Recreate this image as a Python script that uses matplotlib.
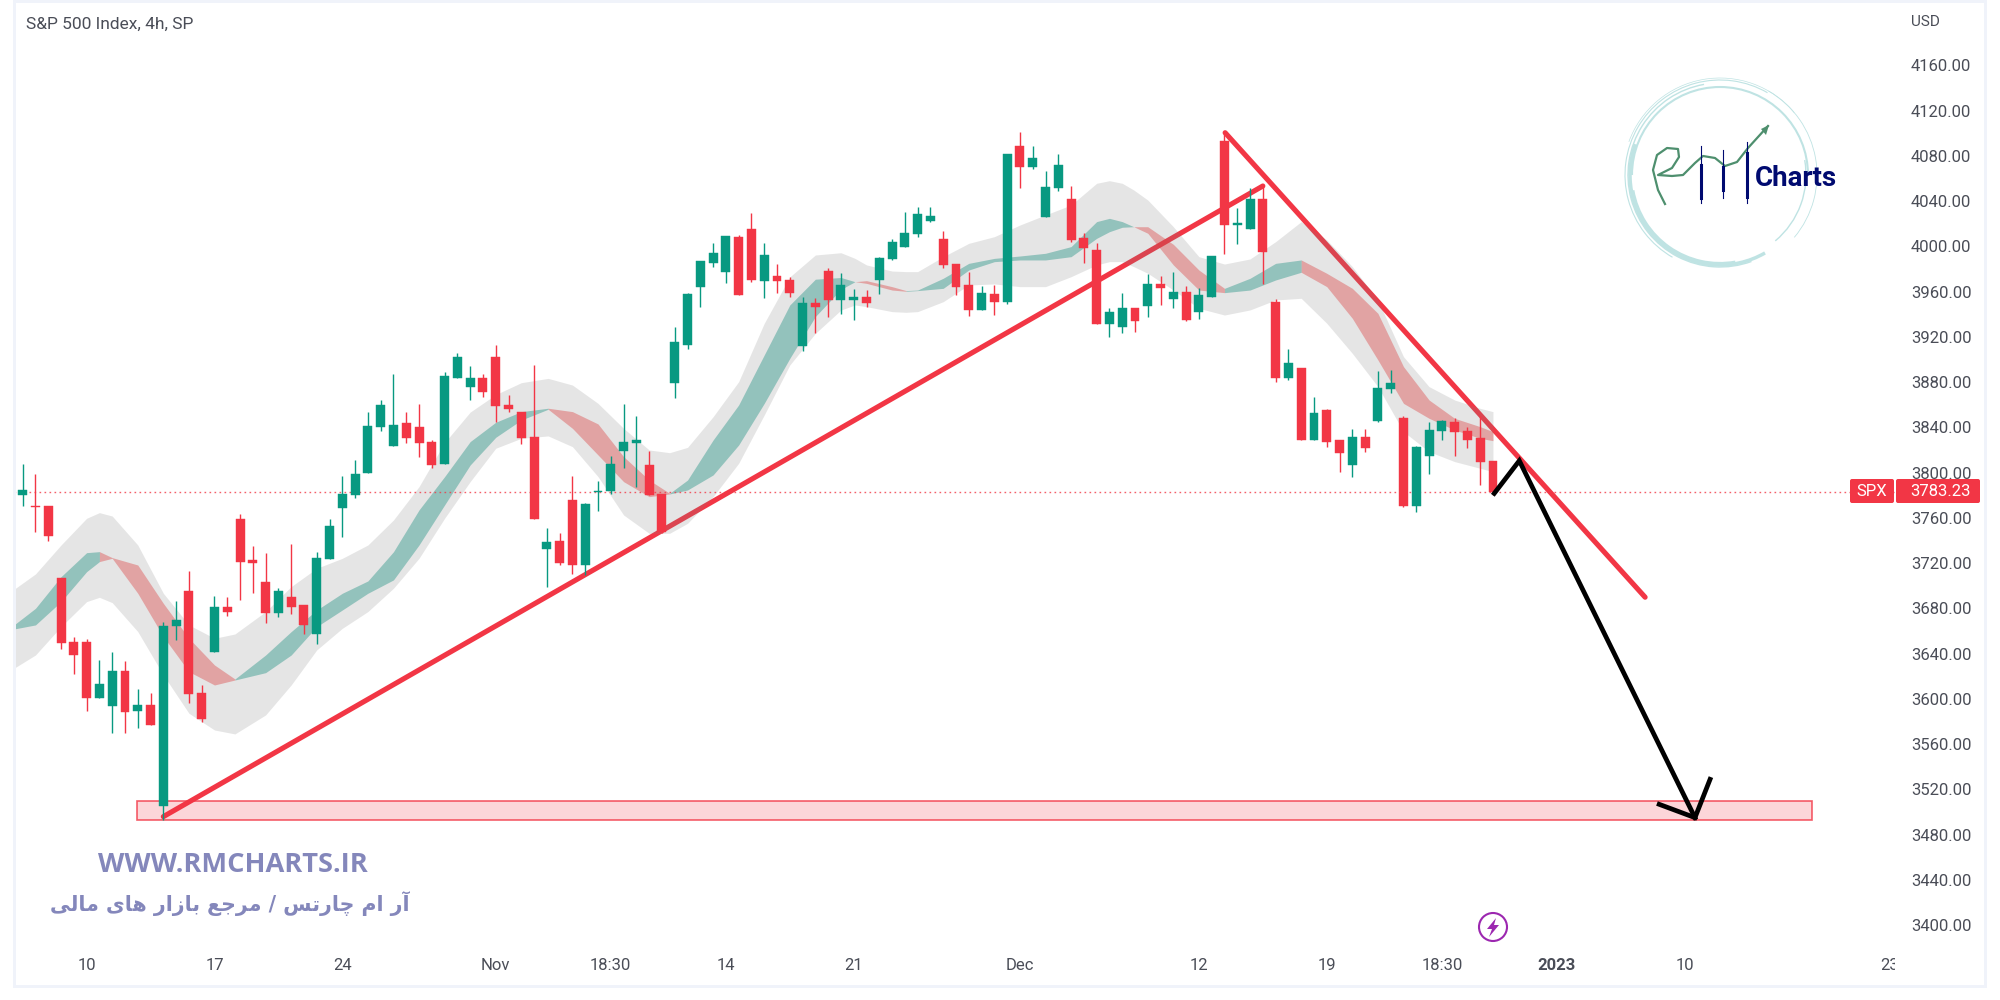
import numpy as np
import matplotlib
matplotlib.use("Agg")
import matplotlib.pyplot as plt
from matplotlib.patches import Arc, Circle, FancyBboxPatch, Polygon, Rectangle
from matplotlib.transforms import Bbox

# 4h candles
opens = [3780.2, 3770.8, 3770.8, 3707.1, 3650.5, 3650.5, 3601.0, 3593.9, 3624.9, 3589.2,
         3594.8, 3504.9, 3664.4, 3695.6, 3605.4, 3641.4, 3681.5, 3759.0, 3723.0, 3703.6,
         3675.9, 3689.7, 3682.7, 3657.3, 3723.3, 3768.4, 3779.9, 3799.7, 3840.0, 3823.8,
         3843.6, 3840.0, 3827.3, 3807.9, 3883.9, 3876.0, 3883.9, 3902.5, 3859.8, 3853.9,
         3831.8, 3732.7, 3739.5, 3775.5, 3718.6, 3782.5, 3783.7, 3819.4, 3826.5, 3806.7,
         3781.1, 3879.5, 3912.9, 3963.8, 3985.6, 3977.7, 4008.6, 4015.7, 3969.7, 3974.2,
         3970.6, 3911.9, 3949.7, 3978.5, 3952.3, 3952.3, 3955.6, 3970.6, 3989.2, 3999.5,
         4011.0, 4022.5, 4006.2, 3984.4, 3965.9, 3944.1, 3957.9, 3951.1, 4088.5, 4069.9,
         4026.0, 4051.3, 4042.2, 4007.4, 3997.1, 3931.4, 3929.0, 3945.2, 3947.6, 3967.0,
         3953.2, 3960.0, 3941.7, 3955.6, 4092.9, 4019.2, 4015.7, 4042.2, 3950.8, 3883.9,
         3892.2, 3828.5, 3855.0, 3828.5, 3806.7, 3831.8, 3845.6, 3873.6, 3848.0, 3770.8,
         3814.7, 3836.8, 3844.4, 3836.5, 3830.6, 3810.0]
highs = [3807.6, 3798.5, 3770.8, 3707.1, 3655.0, 3652.6, 3634.3, 3641.1, 3633.1, 3608.7,
         3605.4, 3667.6, 3686.2, 3712.7, 3612.2, 3690.9, 3689.7, 3763.7, 3734.8, 3728.9,
         3698.0, 3737.2, 3682.7, 3730.1, 3759.0, 3797.3, 3811.2, 3853.9, 3864.2, 3887.2,
         3853.9, 3860.6, 3828.5, 3888.6, 3905.7, 3894.2, 3887.2, 3912.5, 3868.9, 3853.9,
         3895.4, 3751.0, 3746.3, 3797.3, 3772.8, 3792.6, 3814.7, 3860.9, 3850.3, 3819.1,
         3781.1, 3929.1, 3959.1, 3986.8, 4002.7, 4008.9, 4009.8, 4029.3, 4002.7, 3984.5,
         3972.7, 3955.6, 3954.4, 3980.6, 3976.2, 3962.3, 3961.2, 3990.9, 4006.2, 4030.4,
         4035.1, 4035.1, 4013.3, 3984.4, 3977.4, 3964.7, 3965.9, 4081.4, 4101.1, 4088.5,
         4066.4, 4081.4, 4053.7, 4012.1, 4002.7, 3945.2, 3959.1, 3945.2, 3975.3, 3974.1,
         3977.4, 3964.7, 3963.5, 3991.2, 4100.0, 4034.2, 4051.3, 4054.3, 3953.2, 3909.3,
         3892.2, 3866.5, 3856.2, 3828.5, 3838.8, 3838.8, 3889.5, 3890.7, 3850.3, 3823.8,
         3844.4, 3846.8, 3848.0, 3840.0, 3850.3, 3810.0]
lows = [3770.8, 3747.8, 3739.5, 3643.8, 3621.7, 3589.2, 3601.0, 3569.8, 3569.8, 3574.2,
        3576.6, 3492.9, 3651.7, 3596.0, 3579.8, 3641.4, 3673.5, 3687.4, 3693.3, 3666.7,
        3672.3, 3674.7, 3657.3, 3648.2, 3723.3, 3743.1, 3777.6, 3799.7, 3836.8, 3823.8,
        3826.2, 3813.5, 3804.4, 3807.9, 3883.9, 3864.5, 3866.5, 3844.7, 3853.9, 3825.0,
        3759.3, 3699.1, 3718.6, 3710.6, 3709.4, 3766.0, 3781.1, 3804.4, 3787.0, 3780.2,
        3746.3, 3865.7, 3909.6, 3946.5, 3982.1, 3967.4, 3956.8, 3968.6, 3954.7, 3959.1,
        3955.6, 3907.2, 3923.1, 3937.3, 3940.5, 3934.9, 3946.4, 3957.9, 3988.3, 3999.5,
        4008.6, 4021.3, 3981.2, 3956.7, 3938.2, 3944.1, 3939.3, 3948.8, 4051.6, 4068.1,
        4026.0, 4049.3, 4004.2, 3985.6, 3931.4, 3919.9, 3923.1, 3924.3, 3937.3, 3948.5,
        3945.2, 3933.7, 3935.8, 3955.6, 3993.6, 4001.8, 4015.7, 3967.0, 3880.4, 3881.6,
        3828.5, 3828.5, 3822.6, 3800.8, 3796.4, 3818.2, 3844.4, 3870.1, 3769.9, 3765.2,
        3798.5, 3828.5, 3814.7, 3821.7, 3789.3, 3780.2]
closes = [3784.3, 3769.6, 3744.3, 3649.4, 3639.0, 3601.0, 3613.4, 3624.9, 3588.1, 3594.8,
          3576.6, 3664.4, 3670.0, 3604.3, 3582.2, 3681.5, 3677.1, 3721.0, 3719.8, 3675.9,
          3695.6, 3681.5, 3665.6, 3724.2, 3753.1, 3780.8, 3798.5, 3841.2, 3859.8, 3842.4,
          3830.9, 3826.5, 3806.7, 3885.1, 3902.5, 3883.9, 3871.3, 3858.6, 3856.2, 3830.9,
          3759.3, 3738.3, 3719.8, 3718.6, 3771.9, 3784.0, 3807.9, 3827.3, 3828.5, 3780.2,
          3747.5, 3915.2, 3957.9, 3986.8, 3993.9, 4008.9, 3956.8, 3970.6, 3992.4, 3969.7,
          3959.1, 3949.7, 3946.1, 3952.3, 3965.9, 3955.6, 3949.7, 3990.0, 4003.9, 4012.1,
          4028.3, 4027.2, 3983.3, 3963.8, 3944.1, 3958.8, 3950.8, 4081.4, 4069.9, 4077.9,
          4052.5, 4072.3, 4005.4, 3998.3, 3931.4, 3941.7, 3945.2, 3933.7, 3967.0, 3963.5,
          3960.0, 3934.6, 3956.7, 3991.2, 4019.2, 4020.4, 4042.2, 3994.8, 3883.9, 3896.6,
          3828.5, 3852.7, 3827.3, 3817.0, 3831.8, 3821.7, 3874.5, 3879.2, 3770.8, 3822.6,
          3837.7, 3845.6, 3835.6, 3828.5, 3809.1, 3783.23]

# ribbon indicator, sampled in bar numbers
ribbon_x = [-0.68, 1, 3, 5, 6, 7, 9, 11, 13, 15, 16.6, 19, 21, 23, 25, 27, 29, 31,
            33, 35, 37, 39, 41.1, 43, 45, 47, 49, 50.6, 52, 54, 56, 58, 60,
            62, 64, 65.1, 66, 68, 69.1, 70, 72, 74, 76, 78, 80, 82, 84, 85, 86, 86.9,
            88, 90, 92, 94, 96, 98, 100, 102, 104, 106, 108, 110, 112, 114, 115]
outer_top = [3696.8, 3710.4, 3736.0, 3759.6, 3764.6, 3761.6, 3736.0, 3693.3, 3665.3, 3653.5,
             3657.3, 3677.1, 3699.2, 3715.4, 3724.2, 3736.0, 3758.1, 3787.6,
             3826.5, 3853.5, 3869.0, 3879.5, 3883.3, 3877.4, 3861.2, 3839.1, 3820.0, 3817.6,
             3822.3, 3849.4, 3880.4, 3932.0, 3973.0,
             3992.4, 3994.4, 3989.4, 3983.6, 3978.2, 3977.7, 3977.7, 3990.9, 4002.7, 4008.6,
             4018.9, 4027.8, 4036.6, 4055.8, 4058.1, 4055.8, 4049.9,
             4041.0, 4017.4, 3990.9, 3984.4, 3988.9, 4004.2, 4021.9, 4005.7, 3982.1, 3952.6,
             3902.5, 3876.0, 3864.2, 3856.8, 3853.9]
outer_bot = [3627.0, 3638.7, 3663.8, 3685.9, 3689.7, 3685.0, 3659.4, 3621.1, 3587.2, 3572.4,
             3568.9, 3585.7, 3612.2, 3643.2, 3662.3, 3677.1, 3697.7, 3724.2,
             3759.6, 3792.0, 3821.5, 3830.3, 3832.4, 3822.9, 3796.4, 3762.5, 3746.3, 3746.3,
             3755.1, 3778.7, 3808.2, 3850.9, 3895.1,
             3923.1, 3943.7, 3948.2, 3946.7, 3942.3, 3941.7, 3942.3, 3951.1, 3965.9, 3966.8,
             3964.4, 3964.4, 3973.2, 3983.6, 3986.5, 3986.5, 3982.1,
             3976.2, 3961.4, 3945.2, 3939.3, 3943.8, 3952.6, 3954.1, 3932.0, 3905.4, 3876.0,
             3836.2, 3818.5, 3809.7, 3803.8, 3800.8]
band_top = [3665.3, 3680.0, 3708.0, 3729.2, 3730.1, 3724.8, 3718.3, 3684.4, 3653.5, 3629.9,
            3617.5, 3638.7, 3659.4, 3678.5, 3693.3, 3704.2, 3730.0, 3767.0,
            3796.4, 3827.4, 3844.5, 3853.9, 3856.9, 3853.9, 3843.0, 3814.1, 3793.4, 3781.7,
            3793.4, 3828.8, 3859.8, 3904.0, 3948.2,
            3971.0, 3972.5, 3968.8, 3969.7, 3964.4, 3960.9, 3961.4, 3971.8, 3985.0, 3989.4,
            3991.5, 3993.9, 3999.8, 4021.9, 4024.8, 4021.9, 4017.4,
            4017.4, 4001.8, 3979.1, 3962.9, 3971.8, 3985.0, 3988.0, 3976.2, 3962.9, 3940.8,
            3893.7, 3864.2, 3848.0, 3840.6, 3836.2]
band_bot = [3661.7, 3665.3, 3685.9, 3712.4, 3721.3, 3724.2, 3693.3, 3655.0, 3624.0, 3612.2,
            3616.6, 3623.1, 3638.7, 3663.8, 3678.5, 3693.3, 3705.1, 3736.0,
            3771.4, 3806.7, 3831.2, 3846.5, 3856.0, 3839.1, 3815.6, 3792.0, 3778.7, 3781.1,
            3784.6, 3797.9, 3824.4, 3861.2, 3901.0,
            3938.0, 3962.0, 3968.8, 3967.3, 3961.4, 3960.3, 3960.9, 3962.9, 3979.1, 3986.5,
            3988.0, 3988.0, 3990.9, 4007.1, 4013.0, 4016.9, 4017.4,
            4011.6, 3983.6, 3961.4, 3959.1, 3961.4, 3970.3, 3977.1, 3964.4, 3936.4, 3899.6,
            3861.2, 3848.0, 3837.7, 3830.3, 3828.2]
turns = [-0.68, 6, 16.6, 41.1, 50.6, 65.1, 69.1, 86.9, 94, 100, 115]
turn_colors = ["up", "down", "up", "down", "up", "down", "up", "down", "up", "down"]

# drawings on the chart: (bar, price)
up_line = [(11.0, 3495.8), (97.0, 4053.4)]
down_line = [(94.05, 4100.5), (126.9, 3689.8)]
arrow_path = [(115.1, 3781.6), (117.06, 3810.5), (130.8, 3494.9)]
arrow_head = [(128.0, 3506.7), (130.8, 3494.9), (131.98, 3528.8)]
zone_bars = [8.97, 139.95]
zone_prices = [3493, 3510]

price_ticks = list(range(3400, 4161, 40))
time_ticks = [5, 15, 25, 37, 46, 55, 65, 78, 92, 102, 111, 120, 130, 146]
time_labels = ["10", "17", "24", "Nov", "18:30", "14", "21", "Dec", "12", "19", "18:30", "2023", "10", "23"]
last_price = 3783.23

GREEN = "#089981"
RED = "#F23645"
TEXT = "#4a4d57"
WATERMARK = "#8487BB"
NAVY = "#000A70"

plt.rcParams["font.family"] = ["Roboto", "DejaVu Sans"]

fig = plt.figure(figsize=(20, 10), dpi=100, facecolor="white")

# bar n sits at x = 22.7 + 12.785 * n pixels, axes run from 14 to 1895 px, 3 to 945 px
ax = fig.add_axes([14 / 2000, (1000 - 945) / 1000, (1895 - 14) / 2000, (945 - 3) / 1000])
ax.set_xlim((14 - 22.7) / 12.785, (1895 - 22.7) / 12.785)
ax.set_ylim(3382.3, 4215.2)
for spine in ax.spines.values():
    spine.set_visible(False)

x = np.arange(len(opens))
opens_a = np.array(opens)
closes_a = np.array(closes)
colors = [GREEN if c >= o else RED for o, c in zip(opens, closes)]

ax.add_patch(Rectangle((zone_bars[0], zone_prices[0]), zone_bars[1] - zone_bars[0],
                       zone_prices[1] - zone_prices[0], fc=(0.949, 0.212, 0.271, 0.2),
                       ec=(0.949, 0.212, 0.271, 0.8), lw=1.2, zorder=1))

ax.plot(*zip(*up_line), color=RED, lw=3.7, zorder=2, solid_capstyle="round")
ax.plot(*zip(*down_line), color=RED, lw=3.7, zorder=2, solid_capstyle="round")

rx = np.array(ribbon_x)
ax.fill_between(rx, outer_bot, outer_top, color="#808080", alpha=0.2, lw=0, zorder=3)
for i, kind in enumerate(turn_colors):
    m = (rx >= turns[i]) & (rx <= turns[i + 1])
    c = "#198E7F" if kind == "up" else "#DC4141"
    ax.fill_between(rx[m], np.array(band_bot)[m], np.array(band_top)[m], color=c, alpha=0.4, lw=0, zorder=3.1)

ax.vlines(x, lows, highs, colors=colors, lw=1.0, zorder=4)
ax.bar(x, np.abs(closes_a - opens_a), bottom=np.minimum(opens_a, closes_a), width=0.7,
       color=colors, edgecolor=colors, lw=0.3, zorder=4.1)

ax.axhline(last_price, color=RED, lw=1, ls=(0, (1.2, 2.4)), alpha=0.8, zorder=3.5)

ax.plot(*zip(*arrow_path), color="black", lw=3.4, zorder=5, solid_joinstyle="miter")
ax.plot(*zip(*arrow_head), color="black", lw=3.4, zorder=5, solid_joinstyle="miter")

ax.yaxis.tick_right()
ax.set_yticks(price_ticks)
ax.set_yticklabels([f"{p:.2f}" for p in price_ticks], fontsize=12, color=TEXT)
ax.set_xticks(time_ticks)
ax.set_xticklabels(time_labels, fontsize=12, color=TEXT)
ax.tick_params(axis="y", length=0, pad=11.5)
ax.tick_params(axis="x", length=0, pad=9.4)
for lab in ax.get_xticklabels():
    if lab.get_text() == "2023":
        lab.set_fontweight("bold")
    # the last date is cut off by the price scale
    lab.set_clip_on(True)
    lab.set_clip_box(Bbox.from_extents(0, 0, 1895, 1000))

# everything else is placed in figure pixels
over = fig.add_axes([0, 0, 1, 1], facecolor="none")
over.set_xlim(0, 2000)
over.set_ylim(1000, 0)
over.axis("off")

# panel frame
for rect in [(13, 0, 3, 988), (13, 0, 1973, 3), (13, 985, 1973, 3), (1984, 0, 3, 988)]:
    over.add_patch(Rectangle(rect[:2], rect[2], rect[3], fc="#F0F3FA", ec="none"))

over.text(26, 24, "S&P 500 Index, 4h, SP", fontsize=12.5, color=TEXT, va="center")
over.text(1911, 22, "USD", fontsize=11, color=TEXT, va="center")

# last price tag
over.add_patch(FancyBboxPatch((1850, 479), 44, 24, boxstyle="round,pad=0,rounding_size=2", fc=RED, ec="none"))
over.add_patch(FancyBboxPatch((1896, 479), 84, 24, boxstyle="round,pad=0,rounding_size=2", fc=RED, ec="none"))
over.text(1872, 491, "SPX", fontsize=12, color="white", ha="center", va="center")
over.text(1971, 491, f"{last_price:.2f}", fontsize=12, color="white", ha="right", va="center")

# watermark, Persian line in presentation forms and visual order (no shaping in matplotlib)
over.text(233, 865, "WWW.RMCHARTS.IR", fontsize=19.6, fontweight="bold", family="Open Sans",
          color=WATERMARK, ha="center", va="center")
persian = ("\uFBFD\uFEDF\uFE8E\uFEE3 \uFBFC\uFE8E\uFEEB \uFEAD\uFE8D\uFEAF\uFE8E\uFE91 "
           "\uFECA\uFE9F\uFEAE\uFEE3 / \uFEB2\uFE97\uFEAD\uFE8E\uFB7C \uFEE1\uFE8D \uFEAD\uFE81")
over.text(230, 904, persian, fontsize=14.8, fontweight="bold", family="DejaVu Sans",
          color=WATERMARK, ha="center", va="center")

# logo
logo_c = (1720, 175)
swirl = [(88, 180, 360, 1.5), (90, 60, 200, 2.5), (92, 70, 260, 1.0), (95, 120, 300, 0.8),
         (97, 200, 320, 0.5), (89, 80, 170, 3.0), (86, 350, 50, 1.0), (97, 300, 400, 0.6)]
for r, t1, t2, w in swirl:
    over.add_patch(Arc(logo_c, 2 * r, 2 * r, theta1=t1, theta2=t2, color="#BFE3E3", lw=w))
curve_x = [1665, 1658, 1653, 1657, 1667, 1678, 1679, 1672, 1658, 1672, 1683, 1695, 1703, 1715, 1725, 1737, 1748, 1758, 1768]
curve_y = [204, 190, 170, 155, 148, 149, 157, 168, 175, 176, 175, 163, 156, 158, 166, 162, 148, 137, 126]
over.plot(curve_x, curve_y, color="#4E8F6E", lw=1.6)
over.add_patch(Polygon([(1769, 125), (1761, 129), (1766, 135)], fc="#4E8F6E", ec="none"))
for cx, y0, y1, b0, b1 in [(1701, 146, 203, 165, 198), (1723, 150, 198, 167, 190), (1747, 142, 203, 153, 197)]:
    over.plot([cx, cx], [y0, y1], color=NAVY, lw=0.8)
    over.plot([cx, cx], [b0, b1], color=NAVY, lw=2.2)
over.text(1755, 179, "Charts", fontsize=20, fontweight="bold", color=NAVY, va="center")

# news flash icon
over.add_patch(Circle((1493, 927), 14, fc="none", ec="#9C27B0", lw=1.5))
over.add_patch(Polygon([(1496, 918), (1487, 929), (1492, 929), (1489, 937), (1499, 925), (1494, 925)],
                       fc="#9C27B0", ec="none"))

fig.savefig("out.png", dpi=100)
